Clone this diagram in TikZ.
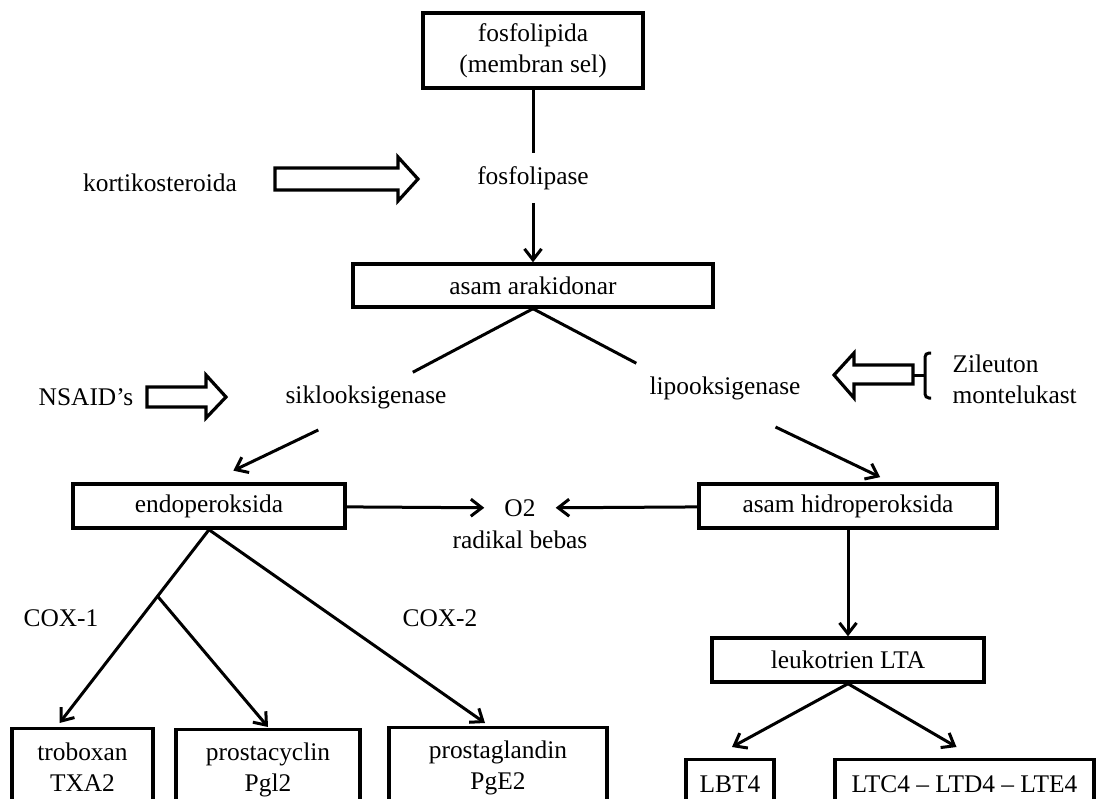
\documentclass[tikz,border=0pt]{standalone}
\usepackage{fontspec}
\setmainfont{Liberation Serif}
\usetikzlibrary{arrows.meta,positioning}

\begin{document}
\begin{tikzpicture}[
  x=1pt, y=-1pt,
  font=\fontsize{25.4}{31}\selectfont,
  >={Straight Barb[length=11pt,width=17pt]},
  box/.style={draw, line width=3.4pt, minimum height=44pt, inner sep=2pt, align=center},
  cutbox/.style={box, anchor=north},
  enz/.style={inner sep=13pt},
  edge/.style={->, line width=3pt},
  link/.style={line width=3pt},
  blockarrow/.style={draw, line width=3.2pt, line join=miter}
]
\clip (0,0) rectangle (1097,798);

\node[box, minimum width=220pt, minimum height=75pt] (fosfo) at (533,50.5) {fosfolipida\\(membran sel)};
\node[enz] (fplase) at (533,178) {fosfolipase};
\node[box, minimum width=360pt, minimum height=43pt] (arak) at (533,285.5) {asam arakidonar};
\node[enz] (siklo) at (366,397) {siklooksigenase};
\node[enz] (lipo) at (725,388) {lipooksigenase};
\node[box, minimum width=272pt] (endo) at (209,506) {endoperoksida};
\node[box, minimum width=298pt] (hidro) at (848,506) {asam hidroperoksida};
\node[inner xsep=20pt, inner ysep=2pt] (o2) at (520,508) {O2};
\node (rad) at (520,540) {radikal bebas};
\node[box, minimum width=272pt] (lta) at (848,660) {leukotrien LTA};

\node (kort) at (160,183) {kortikosteroida};
\node (nsaid) at (86,397) {NSAID’s};
\node[anchor=west, align=left] (zil) at (949,379) {Zileuton\\montelukast};
\node (cox1) at (61,618) {COX-1};
\node (cox2) at (440,618) {COX-2};

\node[cutbox, minimum width=141pt, minimum height=76pt] (trob) at (82.5,727) {troboxan\\TXA2};
\node[cutbox, minimum width=184pt, minimum height=81pt] (pcyc) at (268,728) {prostacyclin\\Pgl2};
\node[cutbox, minimum width=218pt, minimum height=81pt] (pglan) at (498,726) {prostaglandin\\PgE2};
\node[cutbox, minimum width=88pt, minimum height=49pt] (lbt) at (730,758) {LBT4};
\node[cutbox, minimum width=259pt, minimum height=49pt] (ltc) at (964.5,758) {LTC4 – LTD4 – LTE4};

\draw[link] (fosfo) -- (fplase);
\draw[edge] (fplase) -- (arak);
\draw[link] (arak.south) -- (siklo);
\draw[link] (arak.south) -- (lipo.north west);
\draw[edge, shorten <=19pt, shorten >=27pt] (siklo.-141) -- (endo.north);
\draw[edge, shorten <=33pt, shorten >=12pt] (lipo.-50) -- ([xshift=43pt]hidro.north);
\draw[edge] (endo) -- (o2);
\draw[edge] (hidro) -- (o2);
\draw[edge] (endo.south) -- coordinate[pos=0.344] (split) ([xshift=-23pt,yshift=4pt]trob.north);
\draw[edge] (split) -- ([yshift=1pt]pcyc.north);
\draw[edge] (endo.south) -- ([xshift=-13pt,yshift=3pt]pglan.north);
\draw[edge] (hidro) -- (lta);
\draw[edge] (lta.south) -- ([xshift=2pt,yshift=11pt]lbt.north);
\draw[edge] (lta.south) -- ([xshift=-8pt,yshift=11pt]ltc.north);

% inhibitor arrows
\draw[blockarrow] (275,168) -- (398,168) -- (398,157) -- (418,179) -- (398,201) -- (398,190) -- (275,190) -- cycle;
\draw[blockarrow] (147,387) -- (206,387) -- (206,375) -- (226,397) -- (206,418) -- (206,407) -- (147,407) -- cycle;
\draw[blockarrow] (913,365) -- (854,365) -- (854,353) -- (834,375) -- (854,398) -- (854,384) -- (913,384) -- cycle;
\draw[link, rounded corners=4pt] (931,353) -- (925,353) -- (925,398) -- (931,398);
\draw[link] (913,375) -- (925,375);
\end{tikzpicture}
\end{document}
